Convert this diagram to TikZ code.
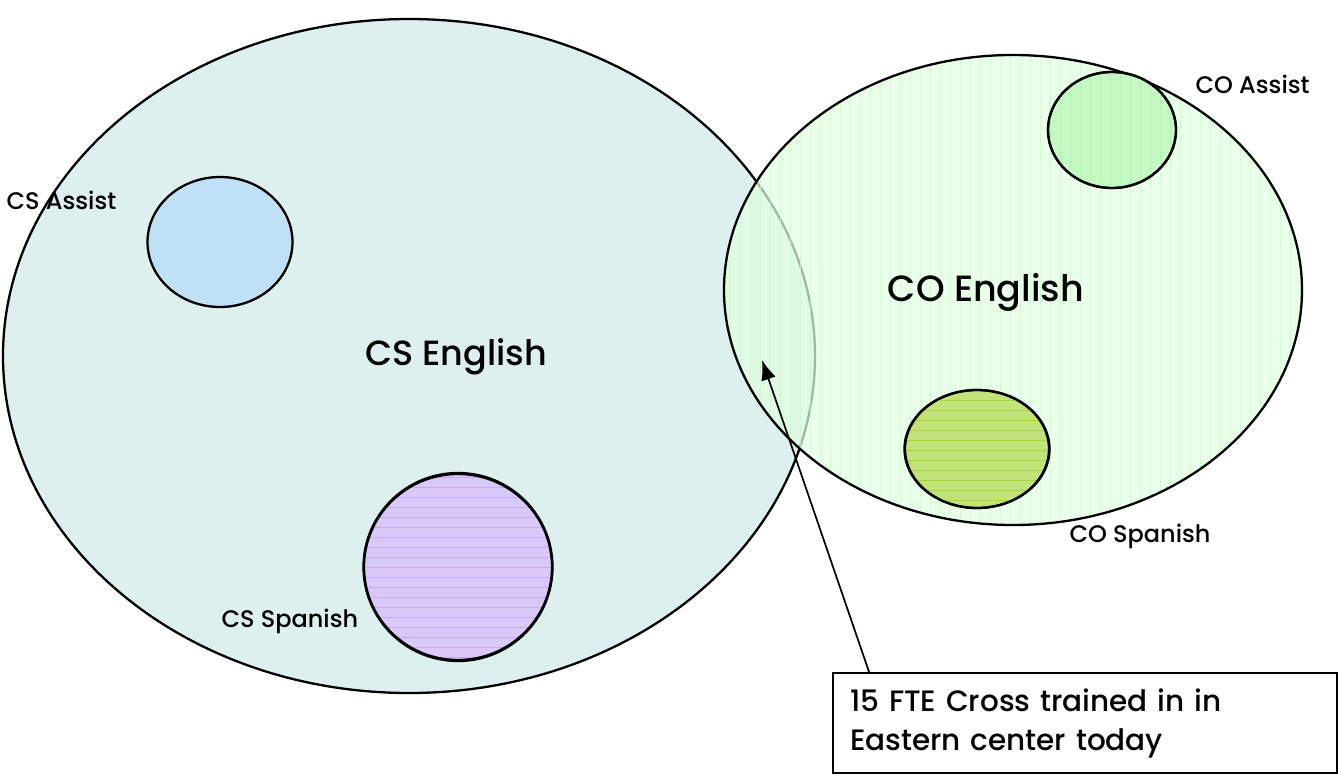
\documentclass[tikz,border=0pt]{standalone}
\usepackage{fontspec}
\setmainfont{Poppins}[BoldFont={Poppins Medium}]
\usetikzlibrary{shapes.geometric,arrows.meta}

\definecolor{csenfill}{HTML}{DDEFEF}
\definecolor{coenfill}{HTML}{E2FFE2}
\definecolor{coenline}{HTML}{CCF5CC}
\definecolor{csasfill}{HTML}{C0E0F6}
\definecolor{csspfill}{HTML}{D8C9F9}
\definecolor{csspline}{HTML}{C9A9F6}
\definecolor{coasfill}{HTML}{C6F8C6}
\definecolor{coasline}{HTML}{B0F0B0}
\definecolor{cospfill}{HTML}{C2E27A}
\definecolor{cospline}{HTML}{A8D838}

\tikzset{
  setshape/.style={ellipse, draw=black, line width=2.3pt, inner sep=0pt},
  biglabel/.style={font=\fontsize{35}{40}\selectfont\bfseries},
  smalllabel/.style={font=\fontsize{24}{28}\selectfont\bfseries},
  notebox/.style={draw=black, line width=1.8pt, fill=white, align=left,
    font=\fontsize{29.5}{39}\selectfont\bfseries, text width=470pt,
    inner xsep=16pt, minimum width=504pt, minimum height=100pt},
  pointer/.style={-{Latex[length=20pt,width=15pt]}, line width=1.7pt}
}

\begin{document}
\begin{tikzpicture}[x=1pt,y=-1pt]
\useasboundingbox (0,0) rectangle (1338,776);

% CS group
\node[setshape, fill=csenfill, minimum width=812pt, minimum height=674pt] (csen) at (409,356) {};
\node[setshape, fill=csasfill, minimum width=145pt, minimum height=130pt] (csas) at (220,242) {};
\node[setshape, fill=csspfill, minimum width=189pt, minimum height=188pt] (cssp) at (458,567) {};
\begin{scope}
  \clip (458,567) ellipse [x radius=94pt, y radius=93pt];
  \foreach \yy in {477,487,...,660} \draw[csspline, line width=0.8pt] (360,\yy) -- (556,\yy);
\end{scope}
\draw[line width=2.3pt] (458,567) ellipse [x radius=94pt, y radius=93pt];

% CO English, translucent over the CS group
\begin{scope}[opacity=0.72]
  \fill[coenfill] (1013,290) ellipse [x radius=289pt, y radius=235pt];
  \clip (1013,290) ellipse [x radius=289pt, y radius=235pt];
  \foreach \xx in {730,740,...,1300} \draw[coenline, line width=0.8pt] (\xx,50) -- (\xx,530);
\end{scope}
\node[setshape, minimum width=578pt, minimum height=470pt] (coen) at (1013,290) {};

% CO subgroups
\node[setshape, fill=coasfill, minimum width=128pt, minimum height=116pt] (coas) at (1112,130) {};
\begin{scope}
  \clip (1112,130) ellipse [x radius=64pt, y radius=58pt];
  \foreach \xx in {1050,1060,...,1176} \draw[coasline, line width=0.8pt] (\xx,70) -- (\xx,190);
\end{scope}
\draw[line width=2.3pt] (1112,130) ellipse [x radius=64pt, y radius=58pt];

\node[setshape, fill=cospfill, minimum width=145pt, minimum height=118pt] (cosp) at (977,449) {};
\begin{scope}
  \clip (977,449) ellipse [x radius=72pt, y radius=59pt];
  \foreach \yy in {400,410,...,506} \draw[cospline, line width=0.8pt] (900,\yy) -- (1052,\yy);
\end{scope}
\draw[line width=2.3pt] (977,449) ellipse [x radius=72pt, y radius=59pt];

% Labels
\node[biglabel] (csenlbl) at (456,357) {CS English};
\node[biglabel, font=\fontsize{36.5}{40}\selectfont\bfseries] (coenlbl) at (986,292) {CO English};
\node[smalllabel, anchor=west] (csaslbl) at (3,200) {CS Assist};
\node[smalllabel, anchor=west] (coaslbl) at (1192,84) {CO Assist};
\node[smalllabel, anchor=west] (cosplbl) at (1066,536) {CO Spanish};
\node[smalllabel, anchor=west] (cssplbl) at (218,621) {CS Spanish};

% Note and pointer
\node[notebox] (note) at (1085,723) {15 FTE Cross trained in in\\Eastern center today};
\coordinate (overlap) at (762,360);
\draw[pointer] (note.north west) ++(37pt,0) coordinate (notetop) -- (overlap);
\end{tikzpicture}
\end{document}
